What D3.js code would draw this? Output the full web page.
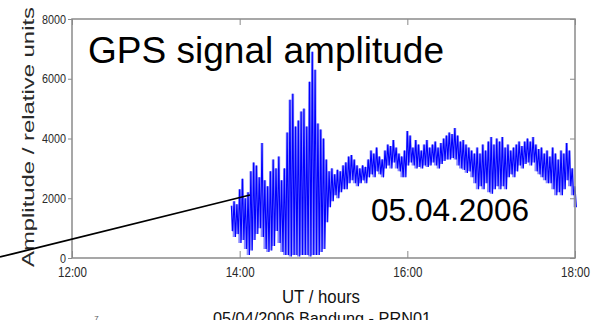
<!DOCTYPE html>
<html>
<head>
<meta charset="utf-8">
<script src="https://cdn.jsdelivr.net/npm/d3@7/dist/d3.min.js"></script>
<style>
  html, body { margin: 0; padding: 0; background: #fff; }
  svg { display: block; font-family: Arial, "Liberation Sans", sans-serif; }
</style>
</head>
<body>
<svg id="chart" width="592" height="320"></svg>
<script>
// Sampling grid: minutes after midnight UT, one envelope bin every 2 minutes (13:54 .. 18:00)
const minutes = d3.range(834, 1081, 2);

// Upper envelope of the received amplitude in each bin (relative units)
const ampHigh = [
  1750, 1900, 1800, 2300, 2650, 2000, 2200, 2900, 3200, 3100,
  2700, 3850, 2600, 2400, 2900, 3300, 3000, 3400, 2600, 3000,
  4200, 5300, 5500, 4400, 4600, 4900, 5000, 4400, 5900, 6900,
  6300, 4500, 4300, 4000, 3300, 2900, 3000, 2800, 2950, 2900,
  3100, 3200, 3400, 3450, 3300, 3100, 3000, 3100, 3050, 3300,
  3600, 3500, 3700, 3400, 3300, 3600, 3800, 3750, 3950, 3700,
  3500, 3400, 3600, 4250, 4100, 3700, 3950, 3800, 3600, 3800,
  3950, 3700, 3800, 3900, 3700, 3850, 4000, 4100, 4200, 4150,
  4350, 4100, 3900, 3950, 3800, 3700, 3600, 3500, 3700, 3500,
  3800, 3600, 3900, 4050, 3800, 4000, 3900, 4050, 3700, 3800,
  3600, 3700, 3800, 3900, 3750, 3900, 4000, 3900, 4050, 3800,
  3650, 3700, 3500, 3600, 3400, 3700, 3500, 3300, 3600, 3500,
  3850, 3600, 3000, 2400
];

// Lower envelope of the received amplitude in each bin (relative units)
const ampLow = [
  900, 700, 800, 500, 600, 300, 100, 250, 600, 800,
  1000, 700, 300, 200, 250, 400, 900, 500, 200, 100,
  100, 50, 100, 100, 50, 100, 100, 100, 50, 100,
  100, 100, 200, 300, 1200, 1700, 1900, 2100, 2000, 2200,
  2300, 2300, 2500, 2600, 2500, 2400, 2500, 2600, 2500, 2700,
  2800, 2700, 2900, 2800, 2700, 3000, 3100, 3000, 3200, 3000,
  2900, 2700, 2700, 3100, 3200, 3100, 3000, 3050, 3000, 3100,
  3050, 3100, 3200, 3100, 3000, 3150, 3250, 3300, 3300, 3350,
  3300, 3100, 3000, 2950, 2850, 2900, 2700, 2500, 2300, 2400,
  2300, 2500, 2200, 2150, 2300, 2400, 2300, 2400, 2300, 2700,
  2800, 2700, 2900, 3100, 3000, 3150, 3200, 3100, 3200, 2900,
  2800, 2700, 2600, 2500, 2500, 2300, 2100, 2200, 2100, 2300,
  2600, 2400, 2100, 1700
];

// Axis ticks
const xTicks = [720, 840, 960, 1080];
const xTickLabels = ["12:00", "14:00", "16:00", "18:00"];
const yTicks = [0, 2000, 4000, 6000, 8000];
const yTickLabels = ["0", "2000", "4000", "6000", "8000"];

const svg = d3.select("#chart");
const margin = { left: 72, right: 17, top: 19, bottom: 62 };
const W = 592, H = 320;
const plotW = W - margin.left - margin.right;
const plotH = H - margin.top - margin.bottom;

const x = d3.scaleLinear().domain([720, 1080]).range([margin.left, margin.left + plotW]);
const y = d3.scaleLinear().domain([0, 8000]).range([margin.top + plotH, margin.top]);

const axisColor = "#8a8a8a";
const labelColor = "#2a2a2a";
const blue = "#0000ff";

// Dense part of the trace: band between the lower and upper envelope
const band = d3.area()
  .x((d, i) => x(minutes[i]))
  .y0((d, i) => y(ampLow[i]))
  .y1((d, i) => y(ampHigh[i]))
  .curve(d3.curveStep);

svg.append("path")
  .datum(minutes)
  .attr("d", band)
  .attr("fill", blue)
  .attr("fill-opacity", 0.45)
  .attr("stroke", "none");

// Signal trace: alternate between the upper and lower envelope inside each bin
const trace = [];
minutes.forEach((m, i) => {
  trace.push([m, ampHigh[i]]);
  trace.push([m + 1, ampLow[i]]);
});
const line = d3.line().x(d => x(d[0])).y(d => y(d[1]));

svg.append("path")
  .datum(trace)
  .attr("d", line)
  .attr("fill", "none")
  .attr("stroke", blue)
  .attr("stroke-width", 1.1)
  .attr("stroke-linejoin", "miter");

// Bottom axis (ticks pointing into the plot)
const gx = svg.append("g")
  .attr("transform", `translate(0,${margin.top + plotH})`)
  .call(d3.axisBottom(x).tickValues(xTicks).tickSize(-7)
    .tickFormat((d, i) => xTickLabels[i]));
gx.select(".domain").remove();
gx.selectAll(".tick line").attr("stroke", axisColor).attr("stroke-width", 1);
gx.selectAll(".tick text")
  .attr("y", 9)
  .attr("font-size", 14)
  .attr("fill", labelColor)
  .attr("textLength", 29)
  .attr("lengthAdjust", "spacingAndGlyphs")
  .attr("font-family", "Arial, 'Liberation Sans', sans-serif");

// Top axis ticks
const gxt = svg.append("g")
  .attr("transform", `translate(0,${margin.top})`)
  .call(d3.axisTop(x).tickValues(xTicks).tickSize(-6).tickFormat(""));
gxt.select(".domain").remove();
gxt.selectAll(".tick line").attr("stroke", axisColor);

// Left axis
const gy = svg.append("g")
  .attr("transform", `translate(${margin.left},0)`)
  .call(d3.axisLeft(y).tickValues(yTicks).tickSize(4).tickPadding(2)
    .tickFormat((d, i) => yTickLabels[i]));
gy.select(".domain").remove();
gy.selectAll(".tick line").attr("stroke", axisColor);
gy.selectAll(".tick text")
  .attr("font-size", 13)
  .attr("fill", labelColor)
  .attr("font-family", "Arial, 'Liberation Sans', sans-serif")
  .each(function(d, i) {
    const n = yTickLabels[i].length;
    d3.select(this).attr("textLength", n * 6).attr("lengthAdjust", "spacingAndGlyphs");
  });

// Right axis ticks
const gyr = svg.append("g")
  .attr("transform", `translate(${margin.left + plotW},0)`)
  .call(d3.axisRight(y).tickValues(yTicks).tickSize(-5).tickFormat(""));
gyr.select(".domain").remove();
gyr.selectAll(".tick line").attr("stroke", axisColor);

// Plot frame
svg.append("rect")
  .attr("x", margin.left).attr("y", margin.top)
  .attr("width", plotW).attr("height", plotH)
  .attr("fill", "none")
  .attr("stroke", axisColor)
  .attr("stroke-width", 1.5);

// Axis titles
svg.append("text")
  .attr("transform", `translate(34,137) rotate(-90)`)
  .attr("text-anchor", "middle")
  .attr("font-size", 17)
  .attr("fill", labelColor)
  .attr("textLength", 260)
  .attr("lengthAdjust", "spacingAndGlyphs")
  .text("Amplitude / relative units");

svg.append("text")
  .attr("x", 282).attr("y", 303)
  .attr("font-size", 17.5)
  .attr("fill", "#111")
  .attr("textLength", 78)
  .attr("lengthAdjust", "spacingAndGlyphs")
  .text("UT / hours");

// Title of the following panel, mostly below the page edge
svg.append("text")
  .attr("x", 213).attr("y", 324)
  .attr("font-size", 17)
  .attr("fill", "#111")
  .attr("textLength", 218)
  .attr("lengthAdjust", "spacingAndGlyphs")
  .text("05/04/2006 Bandung - PRN01");

const expo = svg.append("text")
  .attr("x", 82).attr("y", 328)
  .attr("font-size", 11)
  .attr("fill", "#555");
expo.append("tspan").text("10");
expo.append("tspan").attr("dy", -7).attr("font-size", 8).text("7");

// Annotations
svg.append("text")
  .attr("x", 88).attr("y", 63)
  .attr("font-size", 36)
  .attr("fill", "#000")
  .attr("textLength", 356)
  .attr("lengthAdjust", "spacingAndGlyphs")
  .text("GPS signal amplitude");

svg.append("text")
  .attr("x", 371).attr("y", 221)
  .attr("font-size", 31)
  .attr("fill", "#000")
  .attr("textLength", 158)
  .attr("lengthAdjust", "spacingAndGlyphs")
  .text("05.04.2006");

// Pointer line from the left edge to the start of the disturbance
svg.append("line")
  .attr("x1", 0).attr("y1", 257)
  .attr("x2", 250).attr("y2", 195)
  .attr("stroke", "#000")
  .attr("stroke-width", 1.8);
</script>
</body>
</html>
